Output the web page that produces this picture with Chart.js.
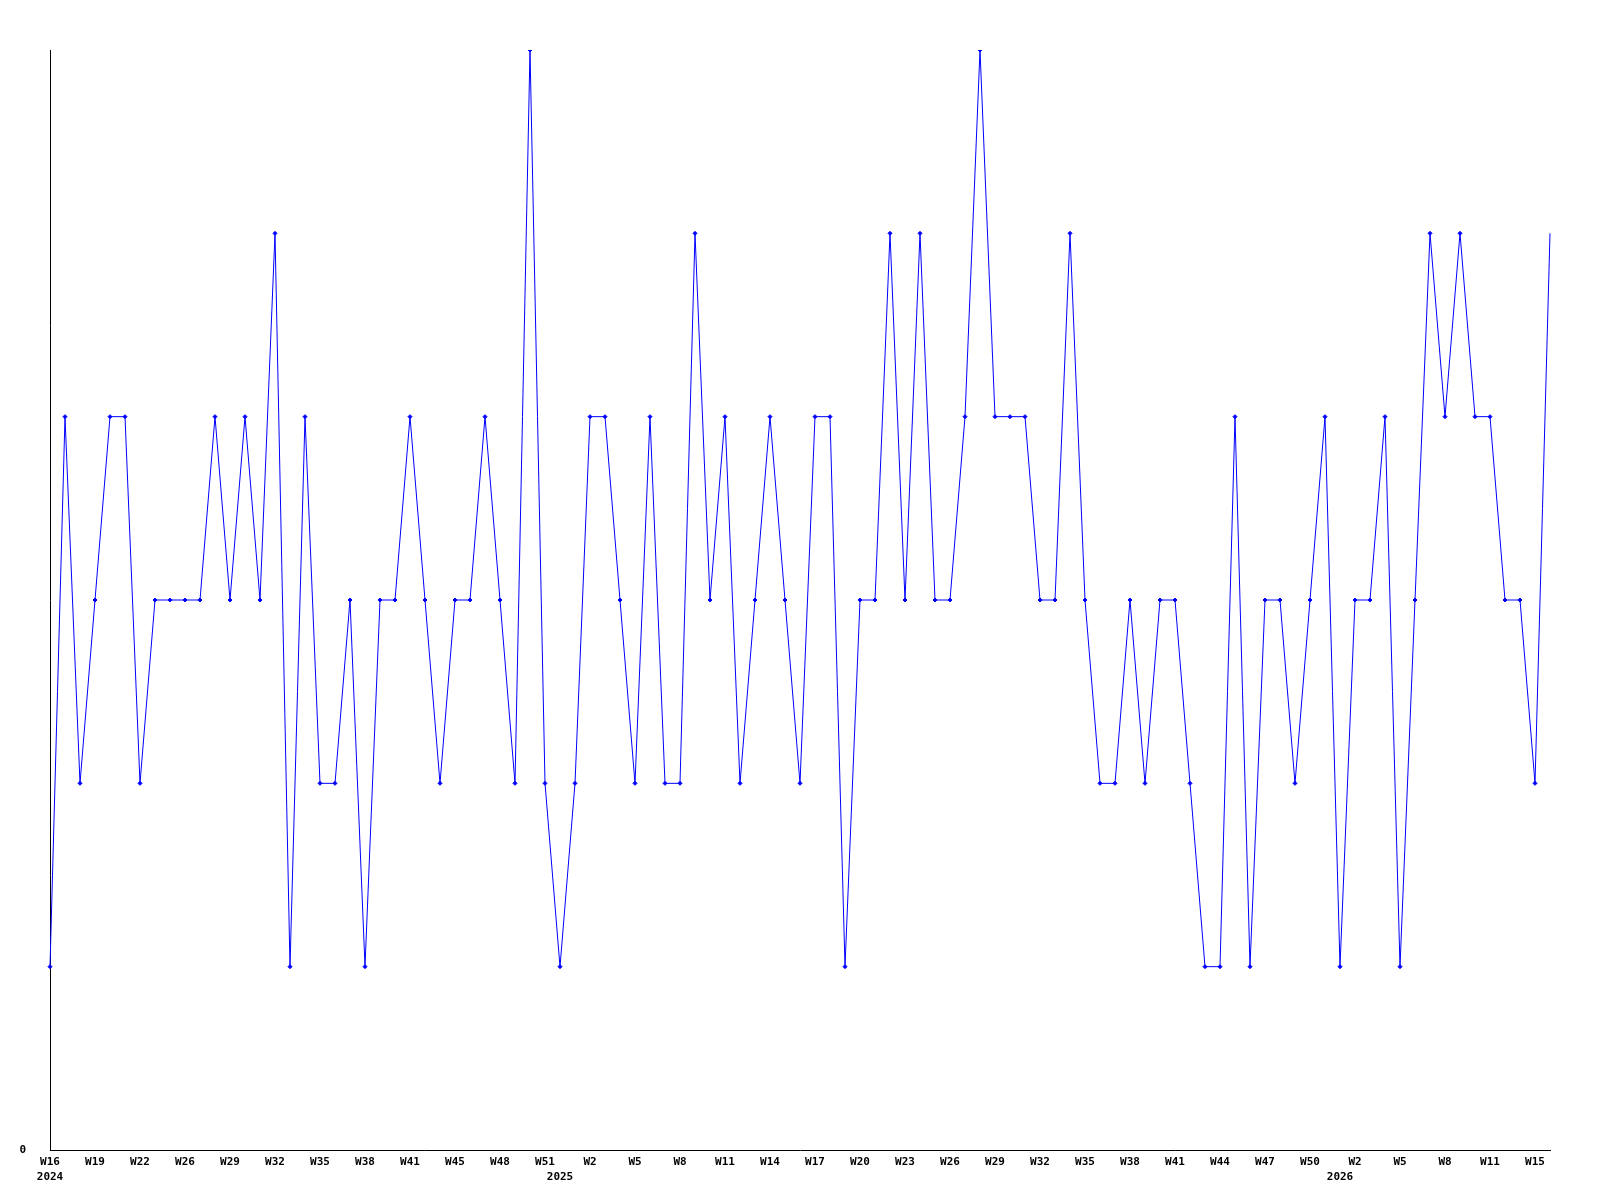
<!DOCTYPE html>
<html>
<head>
<meta charset="utf-8">
<script src="https://cdn.jsdelivr.net/npm/chart.js"></script>
<style>
  html, body { margin: 0; padding: 0; background: #fff; }
  #chart { display: block; }
</style>
</head>
<body>
<canvas id="chart" width="1600" height="1200"></canvas>
<script>
// one value per point, oldest first
var values = [
  1, 4, 2, 3, 4, 4, 2, 3, 3, 3,
  3, 4, 3, 4, 3, 5, 1, 4, 2, 2,
  3, 1, 3, 3, 4, 3, 2, 3, 3, 4,
  3, 2, 6, 2, 1, 2, 4, 4, 3, 2,
  4, 2, 2, 5, 3, 4, 2, 3, 4, 3,
  2, 4, 4, 1, 3, 3, 5, 3, 5, 3,
  3, 4, 6, 4, 4, 4, 3, 3, 5, 3,
  2, 2, 3, 2, 3, 3, 2, 1, 1, 4,
  1, 3, 3, 2, 3, 4, 1, 3, 3, 4,
  1, 3, 5, 4, 5, 4, 4, 3, 3, 2,
  5
];

// a week label sits under every third point
var tickLabels = [
  'W16', 'W19', 'W22', 'W26', 'W29', 'W32', 'W35', 'W38', 'W41', 'W45',
  'W48', 'W51', 'W2', 'W5', 'W8', 'W11', 'W14', 'W17', 'W20', 'W23',
  'W26', 'W29', 'W32', 'W35', 'W38', 'W41', 'W44', 'W47', 'W50', 'W2',
  'W5', 'W8', 'W11', 'W15'
];
var tickStep = 3;

var years = ['2024', '2025', '2026'];
var yearIndex = [0, 34, 86];

var labels = values.map(function(v, i) {
  return (i % tickStep === 0 && tickLabels[i / tickStep]) ? tickLabels[i / tickStep] : '';
});
var yearLabels = values.map(function() { return ''; });
yearIndex.forEach(function(idx, k) { yearLabels[idx] = years[k]; });

var font = { family: '"DejaVu Sans Mono", "Liberation Mono", monospace', size: 11, weight: 'bold' };

var ctx = document.getElementById('chart').getContext('2d');
new Chart(ctx, {
  type: 'line',
  data: {
    labels: labels,
    datasets: [{
      data: values,
      borderColor: '#0000ff',
      backgroundColor: '#0000ff',
      borderWidth: 1,
      tension: 0,
      fill: false,
      pointStyle: 'rectRot',
      pointRadius: function(c) { return c.dataIndex === values.length - 1 ? 0 : 2; },
      pointBorderWidth: 1,
      pointHoverRadius: 2
    }]
  },
  options: {
    responsive: false,
    animation: false,
    layout: { padding: { top: 50, right: 50, left: 0, bottom: 0 } },
    plugins: { legend: { display: false }, tooltip: { enabled: false } },
    scales: {
      x: {
        type: 'category',
        grid: { display: false, drawTicks: false },
        border: { display: true, color: '#000', width: 1 },
        ticks: { autoSkip: false, maxRotation: 0, minRotation: 0, padding: 6, color: '#000', font: font },
        afterFit: function(s) { s.height = 20; }
      },
      x2: {
        type: 'category',
        position: 'bottom',
        labels: yearLabels,
        grid: { display: false, drawTicks: false },
        border: { display: false },
        ticks: { autoSkip: false, maxRotation: 0, minRotation: 0, padding: 1, color: '#000', font: font },
        afterFit: function(s) { s.height = 30; }
      },
      y: {
        min: 0,
        max: 6,
        grid: { display: false, drawTicks: false },
        border: { display: true, color: '#000', width: 1 },
        ticks: {
          stepSize: 1,
          padding: 24,
          color: '#000',
          font: font,
          callback: function(v) { return v === 0 ? '0' : ''; }
        },
        afterFit: function(s) { s.width = 50; }
      }
    }
  }
});
</script>
</body>
</html>
